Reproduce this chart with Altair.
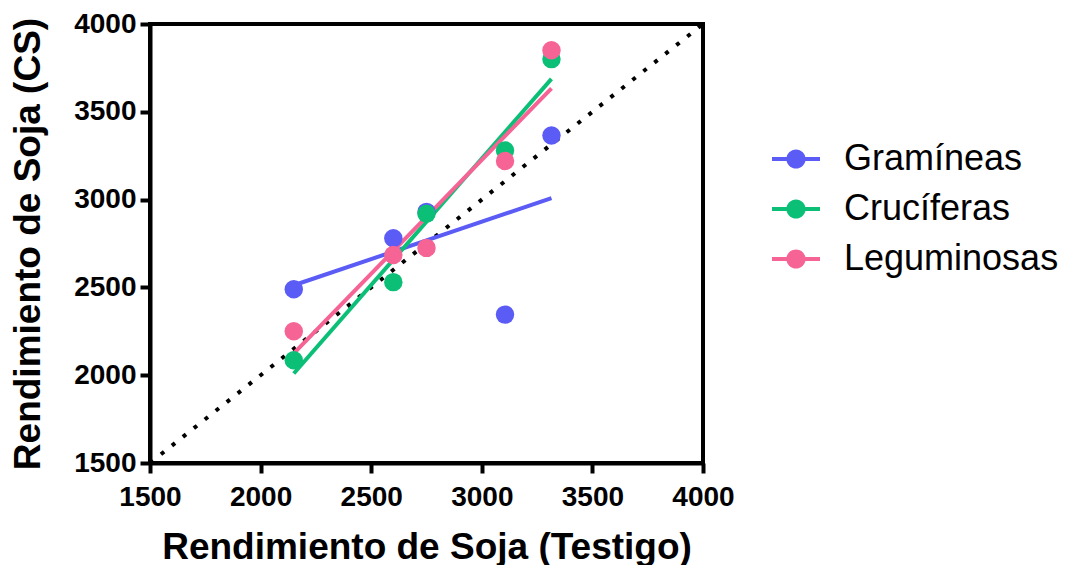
import altair as alt
import pandas as pd

series = ["Gramíneas", "Crucíferas", "Leguminosas"]
colors = ["#5B5BF5", "#0BBF77", "#F66495"]
testigo = [2150, 2600, 2750, 3105, 3315]
gramineas = [2490, 2780, 2930, 2345, 3365]
cruciferas = [2085, 2530, 2920, 3280, 3800]
leguminosas = [2250, 2685, 2725, 3220, 3850]
identity = [1500, 4000]
ticks = [1500, 2000, 2500, 3000, 3500, 4000]

rows = []
for name, vals in zip(series, [gramineas, cruciferas, leguminosas]):
    for t, v in zip(testigo, vals):
        rows.append({"serie": name, "testigo": t, "cs": v})
df = pd.DataFrame(rows)
idf = pd.DataFrame({"testigo": identity, "cs": identity})

FONT = "Liberation Sans"
xs = alt.Scale(domain=[1500, 4000], nice=False)
ys = alt.Scale(domain=[1500, 4000], nice=False)

xax = alt.Axis(values=ticks, format="d", title="Rendimiento de Soja (Testigo)",
               labelFontSize=28, labelFontWeight="bold", labelPadding=10, labelFlush=False,
               titleFontSize=37, titleFontWeight="bold", titlePadding=18)
yax = alt.Axis(values=ticks, format="d", title="Rendimiento de Soja (CS)",
               labelFontSize=28, labelFontWeight="bold", labelPadding=4, labelFlush=False,
               titleFontSize=37, titleFontWeight="bold", titlePadding=26)

X = alt.X("testigo:Q", scale=xs, axis=xax)
Y = alt.Y("cs:Q", scale=ys, axis=yax)

legend_symbol = ("M-1,-0.085H1V0.085H-1Z "
                 "M-0.4,0A0.4,0.4,0,1,1,0.4,0A0.4,0.4,0,1,1,-0.4,0Z")
leg = alt.Legend(title=None, orient="none", legendX=622, legendY=111,
                 symbolType=legend_symbol, symbolSize=2304,
                 symbolStrokeWidth=0, labelFontSize=36, labelLimit=0,
                 labelFont=FONT, labelColor="black",
                 labelOffset=24, rowPadding=8)
C = alt.Color("serie:N", scale=alt.Scale(domain=series, range=colors), sort=series, legend=leg)

diag = alt.Chart(idf).mark_line(color="black", strokeWidth=4, strokeDash=[4, 10]).encode(x=X, y=Y)

reg = alt.Chart(df).transform_regression("testigo", "cs", groupby=["serie"]).mark_line(
    strokeWidth=4).encode(x=X, y=Y, color=C)

pts = alt.Chart(df).mark_circle(size=340, opacity=1).encode(x=X, y=Y, color=C)

chart = alt.layer(diag, reg, pts).properties(
    width=553, height=439,
    background="white",
    autosize=alt.AutoSizeParams(type="none"),
    padding={"left": 150, "top": 24, "right": 363, "bottom": 102},
).configure_view(stroke="black", strokeWidth=4).configure_axis(
    grid=False, domainColor="black", domainWidth=4, tickColor="black", tickWidth=4,
    tickSize=10, labelColor="black", titleColor="black", labelFont=FONT, titleFont=FONT,
)

chart.save("out.html", embed_options={"renderer": "svg", "actions": False})
